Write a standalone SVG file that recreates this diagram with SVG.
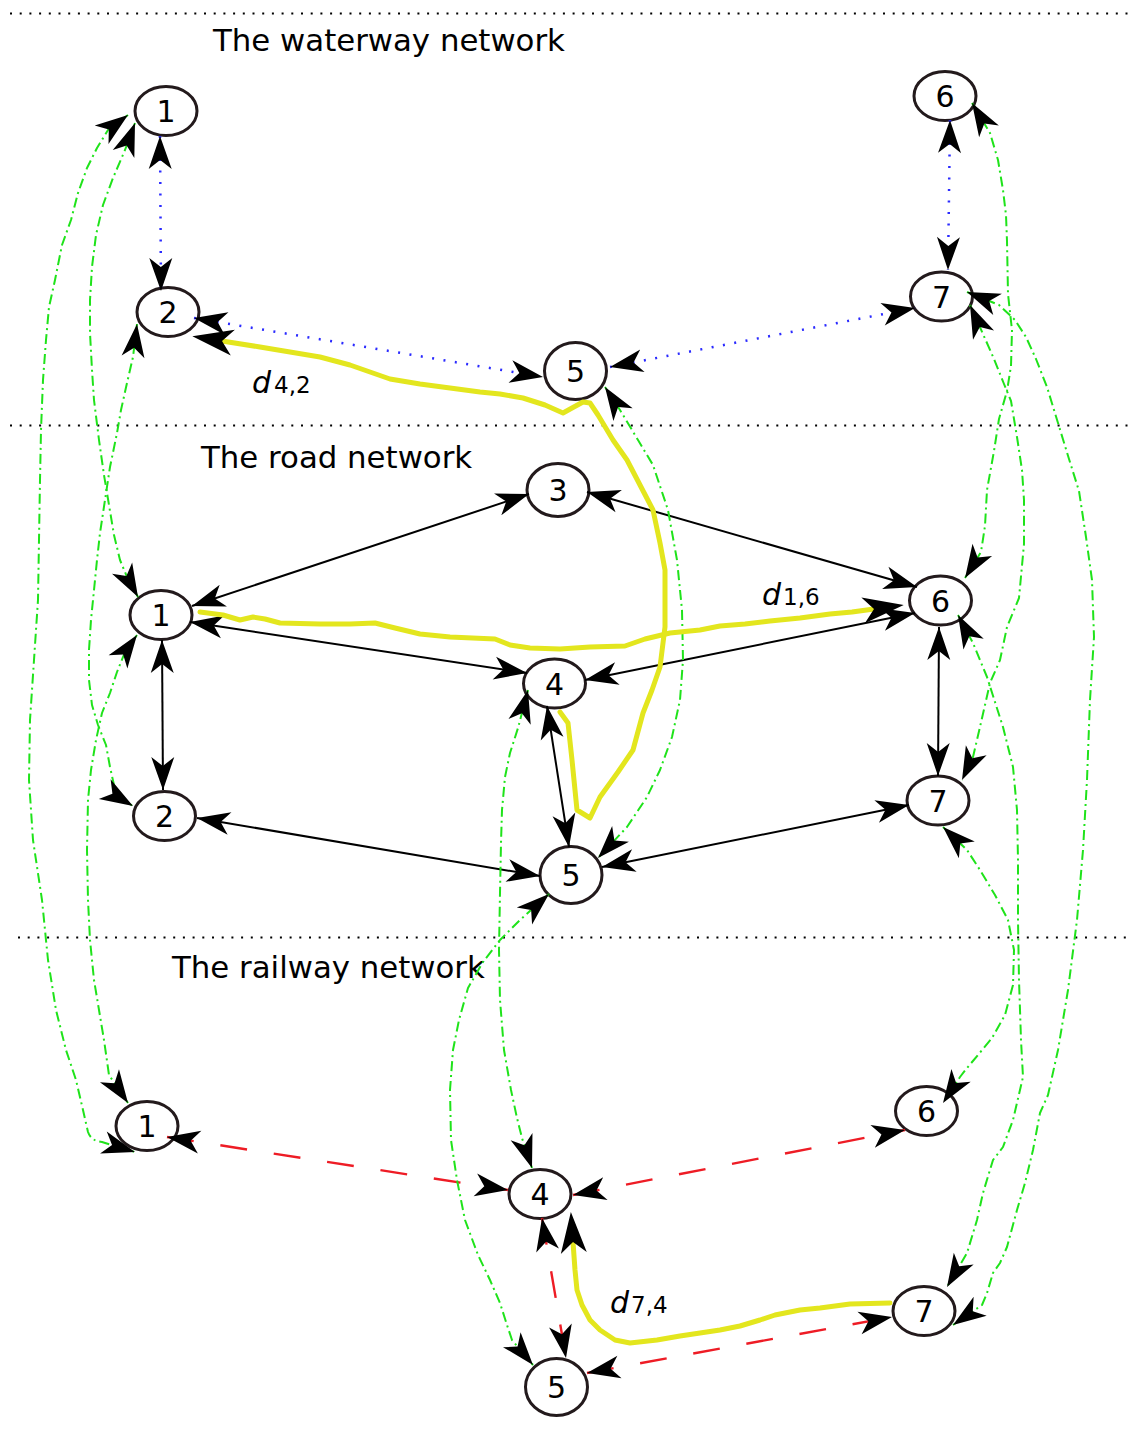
<svg xmlns="http://www.w3.org/2000/svg" width="1130" height="1441" viewBox="0 0 1130 1441">
<style>
.node ellipse{fill:#fff;stroke:#231a1c;stroke-width:3}
.node text{font-family:'DejaVu Sans',sans-serif;font-size:30px;text-anchor:middle;fill:#000}
.title{font-family:'DejaVu Sans',sans-serif;font-size:30.8px;fill:#000}
.div{stroke:#000;stroke-width:2;stroke-dasharray:2,7.7;fill:none}
.w{stroke:#2b2bff;stroke-width:2.5;stroke-dasharray:2,9.5;fill:none;marker-start:url(#a);marker-end:url(#a)}
.r{stroke:#000;stroke-width:2;fill:none;marker-start:url(#a);marker-end:url(#a)}
.l{stroke:#ee1c25;stroke-width:2.4;stroke-dasharray:27,27;fill:none;marker-start:url(#a);marker-end:url(#a)}
.g{stroke:#1fe31a;stroke-width:2;stroke-dasharray:10,4,2,4;fill:none;stroke-linejoin:round;marker-start:url(#a);marker-end:url(#a)}
.y{stroke:#e3e61e;stroke-width:5;fill:none;stroke-linejoin:round;stroke-linecap:round;marker-end:url(#ay)}
.lbl{font-family:'DejaVu Sans',sans-serif;font-size:30px;fill:#000}
</style>
<defs>
<marker id="a" viewBox="-34 -12.5 35 25" markerWidth="35" markerHeight="25" refX="0" refY="0" orient="auto-start-reverse" markerUnits="userSpaceOnUse">
<path d="M0,0 L-33,-11.5 L-24,0 L-33,11.5 Z" fill="#000"/>
</marker>
<marker id="ay" viewBox="-12 -14 44 28" markerWidth="44" markerHeight="28" refX="0" refY="0" orient="auto" markerUnits="userSpaceOnUse">
<path d="M30,0 L-11,-13 L0,0 L-11,13 Z" fill="#000"/>
</marker>
</defs>
<rect width="1130" height="1441" fill="#fff"/>

<g id="dividers">
<line class="div" x1="10" y1="13.5" x2="1130" y2="13.5"/>
<line class="div" x1="10" y1="425.5" x2="1130" y2="425.5"/>
<line class="div" x1="18" y1="937.5" x2="1130" y2="937.5"/>
</g>
<g id="titles">
<text class="title" x="213" y="51">The waterway network</text>
<text class="title" x="201" y="468">The road network</text>
<text class="title" x="172" y="978">The railway network</text>
</g>

<g id="n-w1" class="node"><ellipse cx="166" cy="111" rx="31" ry="24.5"/><text x="166" y="122">1</text></g>
<g id="n-w2" class="node"><ellipse cx="168" cy="312" rx="31" ry="24.5"/><text x="168" y="323">2</text></g>
<g id="n-w5" class="node"><ellipse cx="575.5" cy="371" rx="31" ry="28.5"/><text x="575.5" y="382">5</text></g>
<g id="n-w6" class="node"><ellipse cx="945" cy="96" rx="31" ry="24.5"/><text x="945" y="107">6</text></g>
<g id="n-w7" class="node"><ellipse cx="941.5" cy="296.5" rx="31" ry="24.5"/><text x="941.5" y="307.5">7</text></g>
<g id="n-r3" class="node"><ellipse cx="558" cy="490" rx="31" ry="26.5"/><text x="558" y="501">3</text></g>
<g id="n-r1" class="node"><ellipse cx="161" cy="615" rx="31" ry="24.5"/><text x="161" y="626">1</text></g>
<g id="n-r6" class="node"><ellipse cx="940.5" cy="600.5" rx="31" ry="24.5"/><text x="940.5" y="611.5">6</text></g>
<g id="n-r4" class="node"><ellipse cx="554.5" cy="683.5" rx="31" ry="24.5"/><text x="554.5" y="694.5">4</text></g>
<g id="n-r2" class="node"><ellipse cx="164.5" cy="816" rx="31" ry="24.5"/><text x="164.5" y="827">2</text></g>
<g id="n-r7" class="node"><ellipse cx="938" cy="800.5" rx="31" ry="24.5"/><text x="938" y="811.5">7</text></g>
<g id="n-r5" class="node"><ellipse cx="571" cy="875" rx="31" ry="28.5"/><text x="571" y="886">5</text></g>
<g id="n-l1" class="node"><ellipse cx="147" cy="1126" rx="31" ry="24.5"/><text x="147" y="1137">1</text></g>
<g id="n-l4" class="node"><ellipse cx="540" cy="1194" rx="31" ry="24.5"/><text x="540" y="1205">4</text></g>
<g id="n-l6" class="node"><ellipse cx="926.5" cy="1111" rx="31" ry="24.5"/><text x="926.5" y="1122">6</text></g>
<g id="n-l7" class="node"><ellipse cx="924" cy="1311" rx="31" ry="24.5"/><text x="924" y="1322">7</text></g>
<g id="n-l5" class="node"><ellipse cx="556.5" cy="1387" rx="31" ry="28.5"/><text x="556.5" y="1398">5</text></g>

<g id="connectors">
<!-- waterway -->
<path class="w" d="M160,136 L161,291"/>
<path class="w" d="M194,318 L543,377"/>
<path class="w" d="M610,367 L915,308"/>
<path class="w" d="M950,120 L948,270"/>
<!-- road -->
<path class="r" d="M192,606 L529,494"/>
<path class="r" d="M587,492 L917,587"/>
<path class="r" d="M190,622 L527,673"/>
<path class="r" d="M585,680 L915,613"/>
<path class="r" d="M162,640 L163,790"/>
<path class="r" d="M197,818 L540,876"/>
<path class="r" d="M547,706 L569,847"/>
<path class="r" d="M602,867 L909,805"/>
<path class="r" d="M939,627 L938,776"/>
<!-- railway -->
<path class="l" d="M167,1137 L508,1190"/>
<path class="l" d="M573,1195 L905,1130"/>
<path class="l" d="M542,1218 L566,1358"/>
<path class="l" d="M587,1373 L892,1317"/>
<!-- transfers -->
<path class="g" d="M128,115 L108,130 L97,148 L87,168 L78,193 L71,220 L62,245 L55,280 L49,307 L46,340 L43,380 L41,430 L40,480 L39,540 L38,600 L34,660 L30,720 L29,780 L33,840 L42,900 L48,960 L56,1010 L66,1050 L76,1080 L83,1110 L88,1132 Q91,1141 102,1142 L135,1152"/>
<path class="g" d="M135,123 L125,150 L113,178 L103,205 L96,235 L92,267 L90,300 L90,333 L92,370 L94,400 L99,440 L104,475 L109,505 L114,535 L120,560 L127,577 L138,597"/>
<path class="g" d="M137,324 L133,357 L127,383 L121,410 L117,433 L110,467 L105,500 L100,533 L97,560 L94,590 L91,620 L89,650 L89,680 L92,705 L98,725 L106,745 L110,767 L114,785 Q118,797 133,806"/>
<path class="g" d="M137,635 L125,652 L117,672 L110,693 L102,713 L96,740 L91,770 L88,800 L87,850 L88,900 L90,940 L94,980 L99,1010 L104,1040 L109,1075 L128,1103"/>
<path class="g" d="M605,387 L620,410 L638,440 L653,465 L668,510 L677,560 L682,610 L683,660 L680,700 L672,737 L660,770 L647,797 L627,827 L598,858"/>
<path class="g" d="M528,690 L518,728 L510,753 L505,777 L502,810 L501,843 L500,893 L499,950 L500,1000 L504,1050 L511,1090 L517,1118 L522,1138 L532,1168"/>
<path class="g" d="M549,894 L520,920 L500,940 L483,962 L468,988 L459,1020 L453,1050 L450,1090 L451,1140 L457,1180 L465,1220 L478,1255 L490,1280 L500,1303 L507,1325 L512,1340 L533,1365"/>
<path class="g" d="M972,103 L990,133 L998,160 L1003,190 L1006,215 L1007,241 L1008,294 L1012,330 L1011,366 L1007,391 L999,419 L994,451 L987,490 L985,526 L981,552 L965,578"/>
<path class="g" d="M970,305 L983,334 L994,359 L1004,384 L1011,401 L1017,437 L1022,470 L1024,500 L1024,544 L1019,598 L1007,627 L1000,660 L990,683 L980,727 L973,757 L962,780"/>
<path class="g" d="M967,292 L999,305 L1015,320 L1026,337 L1036,359 L1047,387 L1058,423 L1069,459 L1079,491 L1086,537 L1092,580 L1094,637 L1090,700 L1087,780 L1083,850 L1077,920 L1068,990 L1058,1050 L1048,1095 L1040,1113 L1033,1150 L1025,1183 L1017,1210 L1007,1247 L1000,1263 L993,1273 L987,1293 L982,1305 L953,1325"/>
<path class="g" d="M958,615 L973,643 L987,677 L1003,727 L1013,767 L1017,810 L1018,860 L1018,920 L1019,980 L1021,1040 L1023,1077 L1013,1120 L1003,1147 L993,1160 L983,1193 L977,1220 L967,1253 L947,1287"/>
<path class="g" d="M943,827 L967,850 L980,870 L995,895 L1008,920 L1014,950 L1013,985 L1005,1015 L992,1038 L978,1055 L967,1068 L960,1077 L943,1103"/>
<!-- shortest paths -->
<path class="y" d="M560,712 L568,723 L572,760 L577,810 L590,818 L600,797 L618,772 L633,750 L643,713 L652,690 L660,667 L665,627 L665,570 L660,543 L653,510 L640,485 L627,460 L613,440 L598,415 L590,403 L583,402 L572,408 L563,413 L545,405 L523,398 L500,394 L480,392 L450,388 L420,384 L390,379 L370,372 L350,365 L320,357 L290,352 L260,347 L222,341"/>
<path class="y" d="M200,612 L223,615 L240,620 L253,617 L265,619 L280,623 L320,624 L350,624 L375,623 L395,628 L420,634 L450,637 L495,639 L510,645 L530,648 L560,649 L590,647 L625,646 L645,639 L670,633 L700,630 L720,626 L745,624 L770,621 L800,618 L830,614 L852,612 L874,609"/>
<path class="y" d="M890,1303 L850,1304 L820,1308 L800,1310 L775,1315 L760,1320 L740,1326 L720,1330 L700,1333 L680,1336 L657,1340 L630,1343 L615,1340 L600,1330 L590,1320 L582,1305 L577,1290 L575,1270 L573,1242"/>
</g>

<g id="labels">
<text class="lbl" x="252" y="393"><tspan font-style="italic">d</tspan><tspan font-size="23" dx="3">4,2</tspan></text>
<text class="lbl" x="762" y="605"><tspan font-style="italic">d</tspan><tspan font-size="23" dx="2">1,6</tspan></text>
<text class="lbl" x="610" y="1313"><tspan font-style="italic">d</tspan><tspan font-size="23" dx="2">7,4</tspan></text>
</g>
</svg>
